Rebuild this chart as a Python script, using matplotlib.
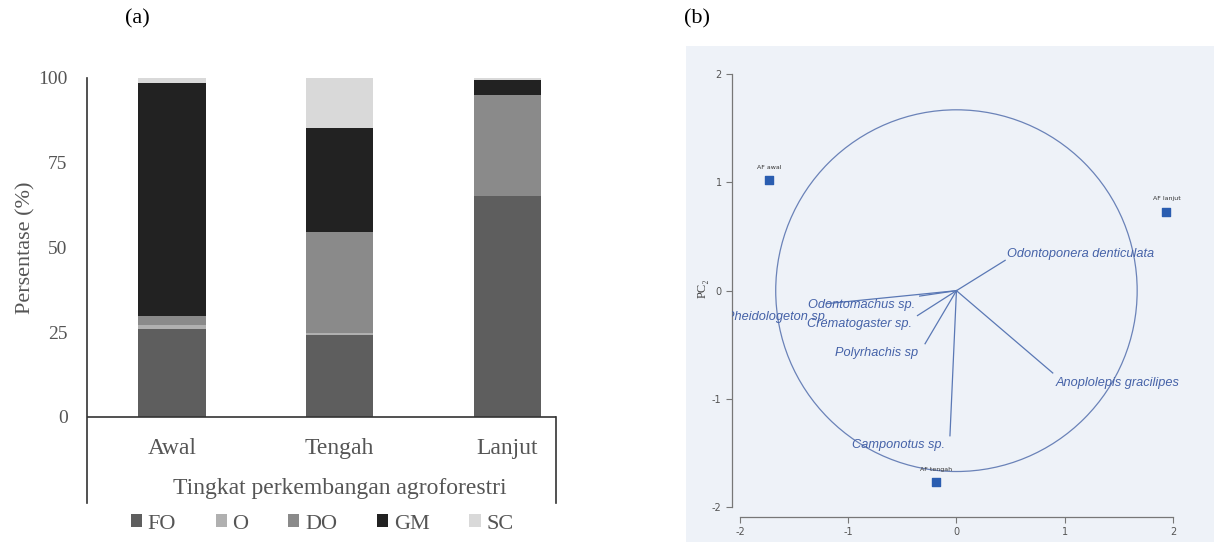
import matplotlib.pyplot as plt
import numpy as np
from matplotlib.patches import Circle

plt.rcParams["axes.unicode_minus"] = False

# (a) stacked bars, percent of each group
stages = ["Awal", "Tengah", "Lanjut"]
groups = ["FO", "O", "DO", "GM", "SC"]
FO = [26.0, 24.2, 65.1]
O = [1.1, 0.5, 0.0]
DO = [2.8, 30.0, 30.0]
GM = [68.6, 30.5, 4.4]
SC = [1.5, 14.8, 0.5]
yticks_a = [0, 25, 50, 75, 100]

# (b) PCA biplot
sites = ["AF awal", "AF lanjut", "AF tengah"]
site_pc1 = [-1.73, 1.94, -0.19]
site_pc2 = [1.02, 0.73, -1.77]
species = ["Odontoponera denticulata", "Odontomachus sp.", "Pheidologeton sp.",
           "Crematogaster sp.", "Polyrhachis sp", "Camponotus sp.",
           "Anoplolepis gracilipes"]
load_pc1 = [0.45, -0.34, -1.20, -0.36, -0.29, -0.06, 0.89]
load_pc2 = [0.28, -0.05, -0.12, -0.23, -0.49, -1.34, -0.76]
circle_r = 1.67
ticks_b = [-2, -1, 0, 1, 2]

colors = ["#5e5e5e", "#b0b0b0", "#8a8a8a", "#222222", "#d9d9d9"]
txt = "#555555"
serif = ["Liberation Serif", "DejaVu Serif"]

fig = plt.figure(figsize=(12.14, 5.42), dpi=100)

# ---------- panel (a) ----------
ax = fig.add_axes([87 / 1214, 1 - 503 / 542, (556 - 87) / 1214, (503 - 78) / 542])
x = np.arange(len(stages))
bottom = np.zeros(len(stages))
for name, vals, c in zip(groups, [FO, O, DO, GM, SC], colors):
    ax.bar(x, vals, width=0.4, bottom=bottom, color=c, label=name)
    bottom += np.array(vals)

ax.set_xlim(-0.507, 2.29)
ax.set_ylim(-25.4, 100)
for s in ["top", "right", "bottom"]:
    ax.spines[s].set_visible(False)
ax.spines["left"].set_color("#333333")
ax.spines["left"].set_linewidth(1.2)
ax.axhline(0, color="#333333", lw=1.2)
ax.plot([2.29, 2.29], [-25.4, 0], color="#333333", lw=1.2, clip_on=False)
ax.set_xticks([])
ax.set_yticks(yticks_a)
ax.set_yticklabels([str(v) for v in yticks_a], family=serif, fontsize=14, color=txt)
ax.tick_params(axis="y", length=0, pad=14)
for xi, s in zip(x, stages):
    ax.text(xi, -9.2, s, ha="center", va="center", family=serif, fontsize=17, color=txt)
ax.text(np.mean(x), -21, "Tingkat perkembangan agroforestri", ha="center", va="center",
        family=serif, fontsize=17, color=txt)
ax.set_ylabel("Persentase (%)", family=serif, fontsize=16, color=txt)
ax.yaxis.set_label_coords(-0.11, 0.6)

leg = fig.legend(loc="center", bbox_to_anchor=(322 / 1214, 1 - 524 / 542), ncol=5,
                 frameon=False, handlelength=0.5, handleheight=0.5, handletextpad=0.25,
                 columnspacing=1.8, prop={"family": serif, "size": 16})
for t in leg.get_texts():
    t.set_color(txt)

fig.text(137 / 1214, 1 - 19 / 542, "(a)", family=serif, fontsize=16, ha="center", va="center")
fig.text(697 / 1214, 1 - 19 / 542, "(b)", family=serif, fontsize=16, ha="center", va="center")

# ---------- panel (b) ----------
bg = fig.add_axes([686 / 1214, 0, 1 - 686 / 1214, 1 - 46 / 542])
bg.set_facecolor("#eef2f8")
bg.set_xticks([])
bg.set_yticks([])
for s in bg.spines.values():
    s.set_visible(False)

bx = fig.add_axes([732 / 1214, 1 - 517 / 542, (1214 - 732) / 1214, (517 - 60) / 542])
bx.set_facecolor("none")
bx.set_xlim(-2.074, 2.38)
bx.set_ylim(-2.09, 2.13)
for s in ["top", "right"]:
    bx.spines[s].set_visible(False)
for s in ["left", "bottom"]:
    bx.spines[s].set_bounds(-2, 2)
    bx.spines[s].set_color("#777777")
    bx.spines[s].set_linewidth(0.9)
bx.set_xticks(ticks_b)
bx.set_yticks(ticks_b)
bx.tick_params(length=4, width=0.8, color="#777777", labelsize=7, labelcolor="#555555")

blue = "#5a78b5"
bx.add_patch(Circle((0, 0), circle_r, fill=False, ec="#6a82b8", lw=0.9))

label_off = {
    "Odontoponera denticulata": (2, 6, "left"),
    "Odontomachus sp.": (-5, -9, "right"),
    "Pheidologeton sp.": (2, -13, "right"),
    "Crematogaster sp.": (-5, -8, "right"),
    "Polyrhachis sp": (-7, -9, "right"),
    "Camponotus sp.": (-5, -9, "right"),
    "Anoplolepis gracilipes": (3, -10, "left"),
}
for name, px, py in zip(species, load_pc1, load_pc2):
    bx.plot([0, px], [0, py], color=blue, lw=0.9)
    dx, dy, ha = label_off[name]
    bx.annotate(name, (px, py), xytext=(dx, dy), textcoords="offset pixels",
                ha=ha, va="center", fontsize=9.2, style="italic", clip_on=True,
                family=["Liberation Sans", "DejaVu Sans"], color="#4562a8")

bx.scatter(site_pc1, site_pc2, marker="s", s=40, color="#2a5db0", zorder=3)
for name, px, py in zip(sites, site_pc1, site_pc2):
    bx.annotate(name, (px, py), xytext=(0, 13), textcoords="offset pixels",
                ha="center", va="center", fontsize=4.5, color="#333333")

bx.set_ylabel("PC₂", family=serif, fontsize=9, color="#444444", labelpad=2)

fig.savefig("out.png", dpi=100)
